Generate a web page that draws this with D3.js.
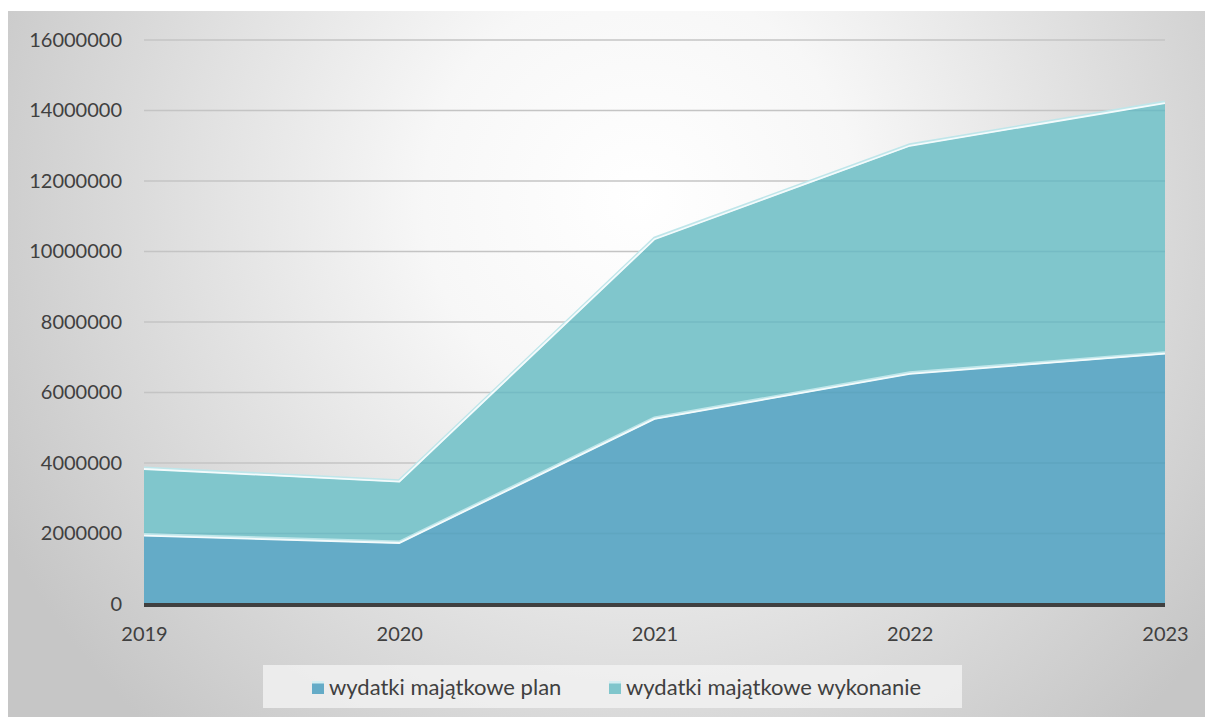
<!DOCTYPE html>
<html>
<head>
	<meta charset="utf-8">
	<title>wydatki majątkowe</title>
	<script type="text/javascript" src="https://cdn.jsdelivr.net/npm/d3@7"></script>
	<style type="text/css">
		body { margin: 0; background: #ffffff; }
		text { font-family: "Lato", "Open Sans", sans-serif; fill: #404040; }
	</style>
</head>
<body>
	<div id="svgdiv"></div>
	<script type="text/javascript">
		// dane
		var years = ["2019", "2020", "2021", "2022", "2023"];
		var plan = [1940000, 1730000, 5250000, 6530000, 7100000];
		var wykonanie = [1890000, 1740000, 5100000, 6470000, 7110000];
		var seriesNames = ["wydatki majątkowe plan", "wydatki majątkowe wykonanie"];
		var yTicks = [0, 2000000, 4000000, 6000000, 8000000, 10000000, 12000000, 14000000, 16000000];

		var w = 1205, h = 717;
		// uwaga: "top" jest zajęte przez window.top
		var pLeft = 144, pRight = 1165, pTop = 40, pBottom = 604;

		var svg = d3.select("#svgdiv").append("svg")
			.attr("width", w).attr("height", h);

		// tło z gradientem
		var defs = svg.append("defs");
		var bg = defs.append("radialGradient").attr("id", "bg")
			.attr("gradientUnits", "userSpaceOnUse")
			.attr("cx", 640).attr("cy", 200).attr("r", 720);
		bg.append("stop").attr("offset", "0%").attr("stop-color", "#ffffff");
		bg.append("stop").attr("offset", "30%").attr("stop-color", "#f7f7f7");
		bg.append("stop").attr("offset", "100%").attr("stop-color", "#c6c6c6");

		svg.append("rect")
			.attr("x", 8).attr("y", 11)
			.attr("width", w - 8).attr("height", h - 11)
			.attr("fill", "url(#bg)");

		var x = d3.scalePoint().domain(years).range([pLeft, pRight]);
		var y = d3.scaleLinear().domain([0, 16000000]).range([pBottom, pTop]);

		// siatka
		svg.append("g").selectAll("line")
			.data(yTicks.slice(1))
			.enter().append("line")
			.attr("x1", pLeft).attr("x2", pRight)
			.attr("y1", function(d){ return y(d); })
			.attr("y2", function(d){ return y(d); })
			.attr("stroke", "#c4c4c4").attr("stroke-width", 1.5);

		// stos
		var rows = years.map(function(yr, i){
			return { year: yr, plan: plan[i], wykonanie: wykonanie[i] };
		});
		var stack = d3.stack().keys(["plan", "wykonanie"]);
		var layers = stack(rows);
		var colours = ["#64abc7", "#80c6cc"];

		var area = d3.area()
			.x(function(d){ return x(d.data.year); })
			.y0(function(d){ return y(d[0]); })
			.y1(function(d){ return y(d[1]); });
		var totalArea = d3.area()
			.x(function(d){ return x(d.data.year); })
			.y0(y(0))
			.y1(function(d){ return y(d[1]); });
		var topLine = d3.line()
			.x(function(d){ return x(d.data.year); })
			.y(function(d){ return y(d[1]); });

		// clip dla linii siatki na obszarze
		defs.append("clipPath").attr("id", "areaClip")
			.append("path").attr("d", totalArea(layers[1]));

		svg.append("g").selectAll("path")
			.data(layers)
			.enter().append("path")
			.attr("d", area)
			.attr("fill", function(d, i){ return colours[i]; });

		// linie siatki przez obszar (delikatne)
		svg.append("g").attr("clip-path", "url(#areaClip)")
			.selectAll("line")
			.data(yTicks.slice(1))
			.enter().append("line")
			.attr("x1", pLeft).attr("x2", pRight)
			.attr("y1", function(d){ return y(d); })
			.attr("y2", function(d){ return y(d); })
			.attr("stroke", "#4f97a8").attr("stroke-opacity", 0.22).attr("stroke-width", 1.5);

		// krawędzie
		svg.append("g").selectAll("path")
			.data(layers)
			.enter().append("path")
			.attr("d", topLine)
			.attr("fill", "none")
			.attr("stroke", "#bfe6ea").attr("stroke-width", 3)
			.attr("transform", "translate(0,-1)");
		svg.append("g").selectAll("path")
			.data(layers)
			.enter().append("path")
			.attr("d", topLine)
			.attr("fill", "none")
			.attr("stroke", "#f4fbfc").attr("stroke-width", 1.8);

		// oś X
		svg.append("line")
			.attr("x1", pLeft).attr("x2", pRight)
			.attr("y1", pBottom + 1).attr("y2", pBottom + 1)
			.attr("stroke", "#404040").attr("stroke-width", 4);

		var xAxis = d3.axisBottom(x).tickSize(0).tickPadding(0);
		var gx = svg.append("g")
			.attr("transform", "translate(0," + (pBottom + 30) + ")")
			.call(xAxis);
		gx.select(".domain").remove();
		gx.selectAll("text").attr("font-size", 20).attr("fill", "#404040")
			.attr("dy", "0.35em").attr("y", 0)
			.style("font-family", "Lato, 'Open Sans', sans-serif");

		var yAxis = d3.axisLeft(y).tickValues(yTicks).tickSize(0).tickPadding(0)
			.tickFormat(function(d){ return String(d); });
		var gy = svg.append("g")
			.attr("transform", "translate(" + (pLeft - 22) + ",0)")
			.call(yAxis);
		gy.select(".domain").remove();
		gy.selectAll("text").attr("font-size", 20).attr("fill", "#404040")
			.style("font-family", "Lato, 'Open Sans', sans-serif");

		// legenda
		var legend = svg.append("g");
		legend.append("rect")
			.attr("x", 263).attr("y", 665).attr("width", 699).attr("height", 43)
			.attr("fill", "#f2f2f2").attr("fill-opacity", 0.8);
		var legX = [312, 609];
		var items = legend.selectAll("g.item")
			.data(seriesNames)
			.enter().append("g")
			.attr("class", "item")
			.attr("transform", function(d, i){ return "translate(" + legX[i] + ",687)"; });
		items.append("rect")
			.attr("x", 0).attr("y", -6).attr("width", 12).attr("height", 13)
			.attr("fill", function(d, i){ return colours[i]; });
		items.append("rect")
			.attr("x", 0).attr("y", -6).attr("width", 12).attr("height", 2.5)
			.attr("fill", "#d4eef2");
		items.append("text")
			.attr("x", 17).attr("y", 0).attr("dy", "0.35em")
			.attr("font-size", 22)
			.text(function(d){ return d; });
	</script>
</body>
</html>
